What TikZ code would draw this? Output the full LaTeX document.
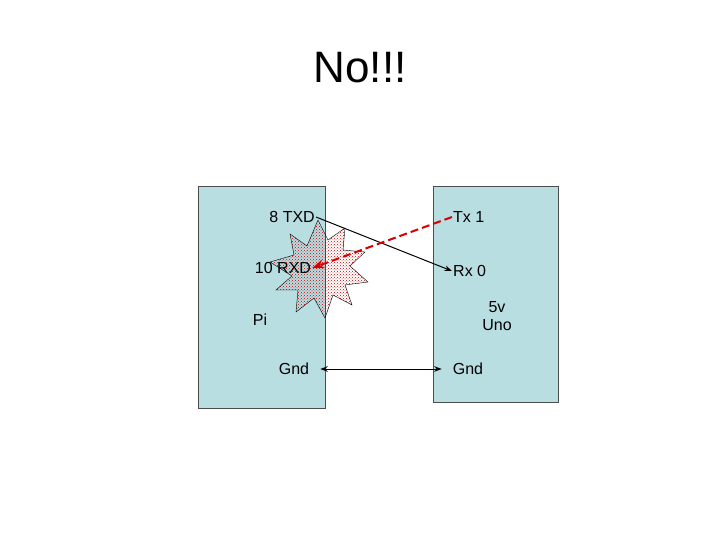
\documentclass[tikz,border=0pt]{standalone}
\usepackage{fontspec}
\setmainfont{Liberation Sans}
\usetikzlibrary{arrows.meta,patterns,positioning}
\definecolor{boardblue}{RGB}{185,222,226}
\tikzset{
  board/.style={draw=black!70, fill=boardblue},
  pin/.style={font=\fontsize{16}{18}\selectfont, inner sep=1pt},
  wire/.style={-Stealth, line width=1pt}
}
\begin{document}
\begin{tikzpicture}[x=1pt,y=-1pt]
\useasboundingbox (0,0) rectangle (720,540);
% Title
\node[font=\fontsize{44}{48}\selectfont] (title) at (360,68) {No!!!};

% Boards
\draw[board] (198,186) rectangle (325,408);
\draw[board] (433,186) rectangle (558,402);

% Bang
\draw[black, fill=white, pattern=crosshatch dots, pattern color=red!80!black]
  plot[smooth cycle, tension=0] coordinates {
  (318,220) (328,240) (345,228) (343,250) (365,252) (350,266)
  (368,282) (345,285) (352,305) (333,295) (325,318) (314,298)
  (296,312) (298,290) (276,290) (292,276) (270,262) (294,255)
  (290,234) (307,246)};

% Pins
\node[pin, anchor=east] (txd) at (316,217) {8 TXD};
\node[pin] (rxd) at (283,268) {10 RXD};
\node[pin] (pi) at (260,320) {Pi};
\node[pin] (pignd) at (294,369) {Gnd};
\node[pin, anchor=west] (tx) at (452,217) {Tx 1};
\node[pin, anchor=west] (rx) at (452,271) {Rx 0};
\node[pin, align=center] (uno) at (497,316) {5v\\Uno};
\node[pin] (unognd) at (468,369) {Gnd};

% Wires
\draw[wire] (txd.east) -- (rx.west);
\draw[wire, red!85!black, dashed, line width=2pt, dash pattern=on 8pt off 4pt] (tx.west) -- (rxd.east);
\draw[wire, Stealth-Stealth] (pignd.east) ++(10,0) -- ([xshift=-10pt]unognd.west);
\end{tikzpicture}
\end{document}
